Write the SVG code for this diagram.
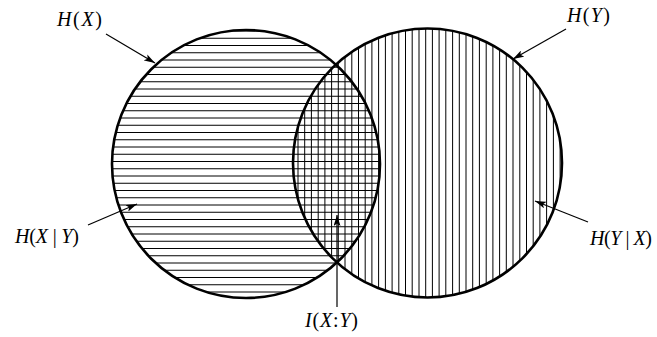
<svg xmlns="http://www.w3.org/2000/svg" width="657" height="337" viewBox="0 0 657 337">
<style>
.circ{fill:none;stroke:#000;stroke-width:2.6}
.hatch{fill:none;stroke:#000;stroke-width:1}
.arr{fill:none;stroke:#000;stroke-width:1.2;marker-end:url(#ah)}
.lbl{font-family:"Liberation Serif","Times New Roman",serif;font-size:20px;fill:#000}
.it{font-style:italic}
</style>
<defs>
<marker id="ah" markerUnits="userSpaceOnUse" markerWidth="11" markerHeight="7" refX="11" refY="3.5" orient="auto">
<path d="M0,0 L11,3.5 L0,7 L2.5,3.5 z" fill="#000"/>
</marker>
<clipPath id="cl"><circle cx="246" cy="164" r="134"/></clipPath>
<clipPath id="cr"><circle cx="427.5" cy="163" r="134.5"/></clipPath>
</defs>
<rect width="657" height="337" fill="#fff"/>
<g id="hx-hatch" clip-path="url(#cl)">
<path class="hatch" d="M100 31H390M100 38.25H390M100 45.5H390M100 52.75H390M100 60H390M100 67.25H390M100 74.5H390M100 81.75H390M100 89H390M100 96.25H390M100 103.5H390M100 110.75H390M100 118H390M100 125.25H390M100 132.5H390M100 139.75H390M100 147H390M100 154.25H390M100 161.5H390M100 168.75H390M100 176H390M100 183.25H390M100 190.5H390M100 197.75H390M100 205H390M100 212.25H390M100 219.5H390M100 226.75H390M100 234H390M100 241.25H390M100 248.5H390M100 255.75H390M100 263H390M100 270.25H390M100 277.5H390M100 284.75H390M100 292H390"/>
</g>
<g id="hy-hatch" clip-path="url(#cr)">
<path class="hatch" d="M298 20V310M304.7 20V310M311.4 20V310M318.2 20V310M324.9 20V310M331.6 20V310M338.3 20V310M345 20V310M351.8 20V310M358.5 20V310M365.2 20V310M371.9 20V310M378.6 20V310M385.4 20V310M392.1 20V310M398.8 20V310M405.5 20V310M412.2 20V310M419 20V310M425.7 20V310M432.4 20V310M439.1 20V310M445.8 20V310M452.6 20V310M459.3 20V310M466 20V310M472.7 20V310M479.4 20V310M486.2 20V310M492.9 20V310M499.6 20V310M506.3 20V310M513 20V310M519.8 20V310M526.5 20V310M533.2 20V310M539.9 20V310M546.6 20V310M553.4 20V310M560.1 20V310"/>
</g>
<g id="node-HX">
<circle class="circ" cx="246" cy="164" r="134"/>
<text class="lbl" x="57" y="26" textLength="45"><tspan class="it">H</tspan>(<tspan class="it">X</tspan>)</text>
</g>
<g id="node-HY">
<circle class="circ" cx="427.5" cy="163" r="134.5"/>
<text class="lbl" x="567" y="22" textLength="43"><tspan class="it">H</tspan>(<tspan class="it">Y</tspan>)</text>
</g>
<g id="node-HXgY">
<text class="lbl" x="15" y="243" textLength="64"><tspan class="it">H</tspan>(<tspan class="it">X</tspan> | <tspan class="it">Y</tspan>)</text>
</g>
<g id="node-HYgX">
<text class="lbl" x="590" y="245" textLength="62"><tspan class="it">H</tspan>(<tspan class="it">Y</tspan> | <tspan class="it">X</tspan>)</text>
</g>
<g id="node-IXY">
<text class="lbl" x="305" y="327" textLength="53"><tspan class="it">I</tspan>(<tspan class="it">X</tspan>:<tspan class="it">Y</tspan>)</text>
</g>
<g id="connectors">
<line class="arr" x1="106" y1="34" x2="155" y2="63"/>
<line class="arr" x1="566" y1="29" x2="513" y2="59"/>
<line class="arr" x1="88" y1="225" x2="137" y2="204"/>
<line class="arr" x1="588" y1="222" x2="535" y2="201"/>
<line class="arr" x1="337" y1="307" x2="337" y2="215"/>
</g>
</svg>
